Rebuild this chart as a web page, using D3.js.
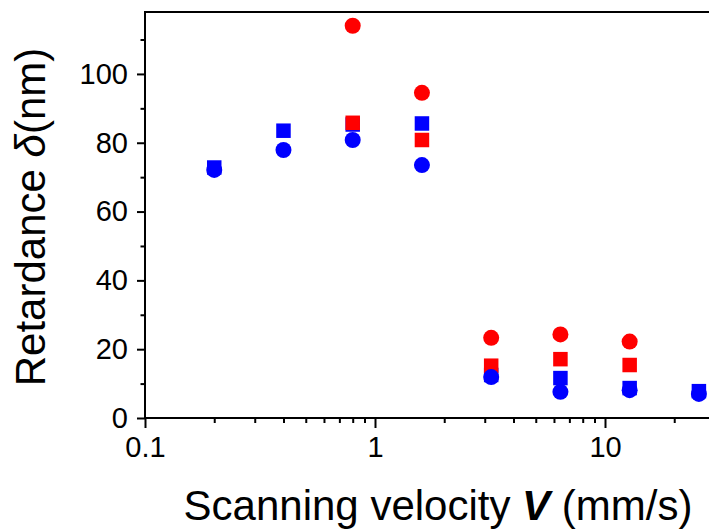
<!DOCTYPE html>
<html><head><meta charset="utf-8">
<script src="https://cdn.jsdelivr.net/npm/d3@7"></script>
<style>
body{margin:0;background:#fff;}
svg{display:block;font-family:"Liberation Sans",Arial,sans-serif;}
</style></head>
<body>
<svg id="c" width="709" height="531"></svg>
<script>
const velocities = [0.2, 0.4, 0.8, 1.6, 3.2, 6.4, 12.8, 25.6];
const blueSquare = [72.8, 83.5, 85.3, 85.6, 12.5, 11.6, 8.7, 7.8];
const redSquare  = [null, null, 85.8, 80.8, 15.2, 17.1, 15.4, null];
const blueCircle = [72.1, 77.9, 80.8, 73.5, 11.9, 7.6, 8.1, 7.0];
const redCircle  = [null, null, 114.0, 94.5, 23.3, 24.3, 22.2, null];
const xTickValues = [0.1, 1, 10];
const yTickValues = [0, 20, 40, 60, 80, 100];
const yMinorValues = [10, 30, 50, 70, 90, 110];

const svg = d3.select("#c");
const L = 145, T = 12, B = 418;
const x = d3.scaleLog().domain([0.1, 100]).range([L, L + 3 * 230]);
const y = d3.scaleLinear().domain([0, 118]).range([B, T]);

// minor x ticks
const xMinor = [];
[0.1, 1, 10].forEach(d => { for (let k = 2; k <= 9; k++) xMinor.push(d * k); });

const gx = svg.append("g").attr("transform", `translate(0,${B})`);
gx.call(d3.axisBottom(x).tickValues(xMinor).tickSize(5).tickFormat(""));
const gx2 = svg.append("g").attr("transform", `translate(0,${B})`);
gx2.call(d3.axisBottom(x).tickValues(xTickValues).tickSize(10).tickPadding(8)
  .tickFormat(d => d >= 1 ? d3.format("d")(d) : String(d)));
[gx, gx2].forEach(g => {
  g.select(".domain").remove();
  g.selectAll(".tick line").attr("stroke", "#000").attr("stroke-width", 2);
});
gx2.selectAll(".tick text").attr("font-size", 29).attr("fill", "#000").attr("dy", "0.71em");

const gy = svg.append("g").attr("transform", `translate(${L},0)`);
gy.call(d3.axisLeft(y).tickValues(yMinorValues).tickSize(4.5).tickFormat(""));
const gy2 = svg.append("g").attr("transform", `translate(${L},0)`);
gy2.call(d3.axisLeft(y).tickValues(yTickValues).tickSize(8).tickPadding(9));
[gy, gy2].forEach(g => {
  g.select(".domain").remove();
  g.selectAll(".tick line").attr("stroke", "#000").attr("stroke-width", 2);
});
gy2.selectAll(".tick text").attr("font-size", 29).attr("fill", "#000");

// frame
svg.append("rect").attr("x", L).attr("y", T)
  .attr("width", x.range()[1] - L).attr("height", B - T)
  .attr("fill", "none").attr("stroke", "#000").attr("stroke-width", 2);

const sq = 14.5, r = 8;
function squares(vals, color) {
  svg.append("g").selectAll("rect")
    .data(velocities.map((v, i) => [v, vals[i]]).filter(d => d[1] != null))
    .join("rect")
    .attr("x", d => x(d[0]) - sq / 2).attr("y", d => y(d[1]) - sq / 2)
    .attr("width", sq).attr("height", sq).attr("fill", color);
}
function circles(vals, color) {
  svg.append("g").selectAll("circle")
    .data(velocities.map((v, i) => [v, vals[i]]).filter(d => d[1] != null))
    .join("circle")
    .attr("cx", d => x(d[0])).attr("cy", d => y(d[1]))
    .attr("r", r).attr("fill", color);
}
squares(blueSquare, "#0000ff");
squares(redSquare, "#ff0000");
circles(blueCircle, "#0000ff");
circles(redCircle, "#ff0000");

// axis titles
const xt = svg.append("text").attr("x", 438).attr("y", 520)
  .attr("text-anchor", "middle").attr("font-size", 42).attr("fill", "#000");
xt.append("tspan").text("Scanning velocity ");
xt.append("tspan").attr("font-weight", "bold").attr("font-style", "italic").text("V");
xt.append("tspan").text(" (mm/s)");

const yt = svg.append("text").attr("transform", "translate(45,217) rotate(-90)")
  .attr("text-anchor", "middle").attr("font-size", 42).attr("fill", "#000");
yt.append("tspan").text("Retardance ");
yt.append("tspan").attr("font-style", "italic").text("δ");
yt.append("tspan").text("(nm)");
</script>
</body></html>
